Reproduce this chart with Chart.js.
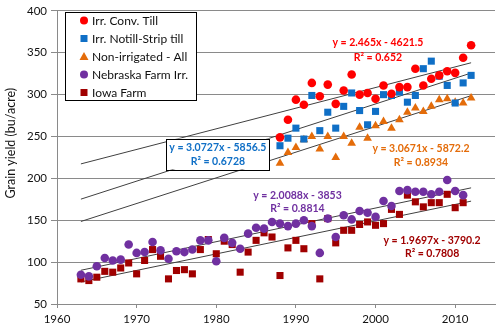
<!DOCTYPE html>
<html>
<head>
<meta charset="utf-8">
<script src="https://cdn.jsdelivr.net/npm/chart.js@4.4.1/dist/chart.umd.min.js"></script>
<style>
  html, body { margin: 0; padding: 0; background: #fff; }
</style>
</head>
<body>
<canvas id="chart" width="500" height="328"></canvas>
<script>
// yields (bu/acre)
const plotYears = [1988, 1989, 1990, 1991, 1992, 1993, 1994, 1995, 1996, 1997, 1998, 1999, 2000,
    2001, 2002, 2003, 2004, 2005, 2006, 2007, 2008, 2009, 2010, 2011, 2012]
const farmYears = [1963, 1964, 1965, 1966, 1967, 1968, 1969, 1970, 1971, 1972, 1973, 1974, 1975,
    1976, 1977, 1978, 1979, 1980, 1981, 1982, 1983, 1984, 1985, 1986, 1987, 1988, 1989, 1990,
    1991, 1992, 1993, 1994, 1995, 1996, 1997, 1998, 1999, 2000, 2001, 2002, 2003, 2004, 2005,
    2006, 2007, 2008, 2009, 2010, 2011]

const irrConvTill = [249, 270, 294, 288, 314, 298, 312, 289, 305, 324, 300, 302, 295,
    311, 301, 309, 309, 331, 311, 319, 323, 328, 326, 344, 359]
const irrNotill = [239, 248, 260, 247, 299, 257, 279, 260, 286, 302, 281, 264, 280,
    300, 299, 303, 291, 299, 331, 340, 322, 311, 290, 314, 323]
const nonIrrigated = [218, 231, 237, 246, 250, 235, 250, 225, 250, 242, 261, 248, 263,
    268, 260, 270, 279, 284, 280, 286, 294, 295, 291, 290, 296]
const nebraskaIrr = [85, 83, 95, 105, 102, 103, 121, 111, 112, 124, 114, 104, 113,
    112, 115, 126, 126, 101, 129, 123, 116, 134, 141, 140, 148, 146, 143, 146,
    150, 143, 111, 152, 130, 156, 151, 161, 159, 154, 173, 167, 185, 186, 184,
    184, 181, 184, 198, 185, 180]
const iowaFarm = [80, 78, 82, 89, 88, 93, 99, 86, 102, 115, 107, 80, 90,
    91, 86, 115, 127, 110, 125, 121, 88, 112, 126, 135, 130, 84, 117, 126,
    116, 146, 80, 152, 123, 138, 138, 145, 148, 144, 146, 163, 157, 180, 172,
    166, 171, 171, 181, 165, 171]

const seriesNames = ["Irr. Conv. Till", "Irr. Notill-Strip till", "Non-irrigated - All",
    "Nebraska Farm Irr.", "Iowa Farm"]
const seriesColors = ["#ff0000", "#0f6fc6", "#e46c0a", "#7030a0", "#a00000"]
const seriesShapes = ["circle", "rect", "triangle", "circle", "rect"]

// trendlines as printed on the chart
const trendSlopes = [2.465, 3.0727, 3.0671, 2.0088, 1.9697]
const trendIntercepts = [-4621.5, -5856.5, -5872.2, -3853, -3790.2]
const trendLabels = ["y = 2.465x - 4621.5", "y = 3.0727x - 5856.5", "y = 3.0671x - 5872.2",
    "y = 2.0088x - 3853", "y = 1.9697x - 3790.2"]
const trendR2 = ["R\u00b2 = 0.652", "R\u00b2 = 0.6728", "R\u00b2 = 0.8934",
    "R\u00b2 = 0.8814", "R\u00b2 = 0.7808"]
const trendSpan = [1963, 2012]
// label anchor, in data units (year, yield) for the two lines
const labelYear = [2000.3, 1980.2, 2005.7, 1990.2, 2007.1]
const labelYield = [[362, 344.5], [236.8, 220.3], [235.6, 219], [180, 163.5], [125.7, 110.5]]

const yTicks = [50, 400, 50]
const xRange = [1960, 2015, 10]
const yTitle = "Grain yield (bu/acre)"
const yTitleAt = 242 // axis value the title is centred on

const FONT = "Lato, 'Open Sans', sans-serif"

const pointSets = [
    [plotYears, irrConvTill],
    [plotYears, irrNotill],
    [plotYears, nonIrrigated],
    [farmYears, nebraskaIrr],
    [farmYears, iowaFarm],
]

const scatterSets = pointSets.map(([xs, ys], i) => ({
    label: seriesNames[i],
    data: xs.map((x, k) => ({ x, y: ys[k] })),
    backgroundColor: seriesColors[i],
    borderColor: seriesColors[i],
    borderWidth: 0,
    pointStyle: seriesShapes[i],
    pointRadius: seriesShapes[i] === "circle" ? 4.3 : 5,
    pointHoverRadius: 5,
}))

const trendSets = trendSlopes.map((m, i) => ({
    label: "trend " + i,
    data: trendSpan.map((x) => ({ x, y: m * x + trendIntercepts[i] })),
    showLine: true,
    borderColor: "#404040",
    borderWidth: 1,
    pointRadius: 0,
    pointHoverRadius: 0,
}))

const drawMarker = (ctx, shape, color, x, y) => {
    ctx.fillStyle = color
    ctx.beginPath()
    if (shape === "circle") {
        ctx.arc(x, y, 4, 0, Math.PI * 2)
    } else if (shape === "rect") {
        ctx.rect(x - 3.5, y - 3.5, 7, 7)
    } else {
        ctx.moveTo(x, y - 4.5)
        ctx.lineTo(x + 4.5, y + 3.5)
        ctx.lineTo(x - 4.5, y + 3.5)
        ctx.closePath()
    }
    ctx.fill()
}

const overlayPlugin = {
    id: "overlay",
    afterDraw(chart) {
        const ctx = chart.ctx
        const xs = chart.scales.x
        const ys = chart.scales.y
        ctx.save()

        // axis title, sits a bit above the middle like the original
        ctx.save()
        ctx.translate(11, ys.getPixelForValue(yTitleAt))
        ctx.rotate(-Math.PI / 2)
        ctx.font = "12.5px " + FONT
        ctx.fillStyle = "#111"
        ctx.textAlign = "center"
        ctx.textBaseline = "middle"
        ctx.fillText(yTitle, 0, 0)
        ctx.restore()

        // trendline equations
        ctx.font = "bold 10.5px " + FONT
        ctx.textAlign = "center"
        ctx.textBaseline = "middle"
        trendLabels.forEach((txt, i) => {
            const cx = xs.getPixelForValue(labelYear[i])
            const y1 = ys.getPixelForValue(labelYield[i][0])
            const y2 = ys.getPixelForValue(labelYield[i][1])
            if (i === 1) {
                const w = ctx.measureText(txt).width + 6
                ctx.fillStyle = "#fff"
                ctx.fillRect(cx - w / 2, y1 - 9, w, y2 - y1 + 17)
                ctx.strokeStyle = "#000"
                ctx.lineWidth = 1
                ctx.strokeRect(Math.round(cx - w / 2) + 0.5, Math.round(y1 - 9) + 0.5,
                    Math.round(w), Math.round(y2 - y1 + 17))
            }
            ctx.fillStyle = seriesColors[i]
            ctx.fillText(txt, cx, y1)
            ctx.fillText(trendR2[i], cx, y2)
        })

        // legend box
        const lx = 65, ly = 12, lw = 131, lh = 88
        ctx.fillStyle = "#fff"
        ctx.fillRect(lx, ly, lw, lh)
        ctx.strokeStyle = "#000"
        ctx.lineWidth = 1
        ctx.strokeRect(lx + 0.5, ly + 0.5, lw, lh)
        ctx.font = "12px " + FONT
        ctx.textAlign = "left"
        seriesNames.forEach((name, i) => {
            const y = ly + 8.5 + i * 18
            drawMarker(ctx, seriesShapes[i], seriesColors[i], lx + 19, y)
            ctx.fillStyle = "#111"
            ctx.fillText(name, lx + 27, y + 0.5)
        })
        ctx.restore()
    },
}

new Chart(document.getElementById("chart"), {
    type: "scatter",
    data: { datasets: [...scatterSets, ...trendSets] },
    options: {
        responsive: false,
        animation: false,
        layout: { padding: { top: 8, right: 5, left: 0, bottom: 0 } },
        plugins: {
            legend: { display: false },
            tooltip: { enabled: false },
        },
        scales: {
            x: {
                type: "linear",
                min: xRange[0],
                max: xRange[1],
                afterFit: (s) => { s.height = 24 },
                ticks: {
                    stepSize: xRange[2],
                    includeBounds: false,
                    color: "#111",
                    font: { family: FONT, size: 11.5 },
                    padding: 4,
                    maxRotation: 0,
                    callback: (v) => String(v),
                },
                grid: { drawOnChartArea: false, tickLength: 4, color: "#8a8a8a" },
                border: { color: "#8a8a8a" },
            },
            y: {
                min: yTicks[0],
                max: yTicks[1],
                afterFit: (s) => { s.width = 57 },
                ticks: {
                    stepSize: yTicks[2],
                    color: "#111",
                    font: { family: FONT, size: 11.5 },
                    padding: 4,
                },
                grid: { color: "#8a8a8a", tickLength: 6 },
                border: { color: "#8a8a8a" },
            },
        },
    },
    plugins: [overlayPlugin],
})
</script>
</body>
</html>
